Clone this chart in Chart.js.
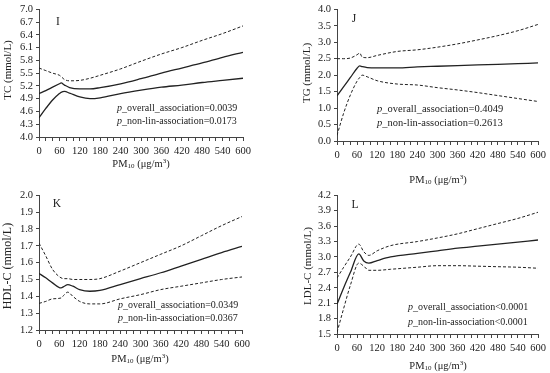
<!DOCTYPE html>
<html>
<head>
<meta charset="utf-8">
<script src="https://cdn.jsdelivr.net/npm/chart.js"></script>
<style>
  body { margin: 0; background: #fff; }
  #wrap { position: relative; width: 550px; height: 373px; }
  canvas { position: absolute; }
</style>
</head>
<body>
<div id="wrap">
  <canvas id="cI" width="275" height="186" style="left:0;top:0"></canvas>
  <canvas id="cJ" width="275" height="186" style="left:275px;top:0"></canvas>
  <canvas id="cK" width="275" height="187" style="left:0;top:186px"></canvas>
  <canvas id="cL" width="275" height="187" style="left:275px;top:186px"></canvas>
</div>
<script>
// PM10 dose-response curves, four lipid panels

// panel I - TC
const tcX = [0, 20, 40, 60, 65, 75, 90, 120, 150, 180, 240, 300, 360, 420, 480, 540, 600];
const tcUpper = [5.62, 5.56, 5.5, 5.45, 5.42, 5.35, 5.32, 5.33, 5.38, 5.45, 5.6, 5.78, 5.95, 6.1, 6.27, 6.43, 6.61];
const tcMid = [5.02, 5.09, 5.17, 5.25, 5.27, 5.22, 5.16, 5.13, 5.13, 5.16, 5.25, 5.37, 5.5, 5.62, 5.74, 5.87, 5.99];
const tcLower = [4.45, 4.67, 4.87, 5.02, 5.05, 5.07, 5.03, 4.94, 4.9, 4.92, 5.02, 5.1, 5.17, 5.22, 5.28, 5.33, 5.38];
const tcTicks = [4.0, 4.3, 4.6, 4.9, 5.2, 5.5, 5.8, 6.1, 6.4, 6.7, 7.0];

// panel J - TG
const tgX = [0, 20, 40, 60, 68, 75, 90, 120, 180, 240, 300, 360, 420, 480, 540, 600];
const tgUpper = [2.5, 2.5, 2.52, 2.62, 2.67, 2.55, 2.53, 2.6, 2.72, 2.77, 2.85, 2.95, 3.07, 3.2, 3.35, 3.54];
const tgMid = [1.37, 1.65, 1.93, 2.21, 2.28, 2.26, 2.23, 2.22, 2.22, 2.25, 2.27, 2.29, 2.31, 2.33, 2.35, 2.37];
const tgLower = [0.17, 0.85, 1.4, 1.82, 1.93, 2.0, 1.95, 1.83, 1.73, 1.7, 1.62, 1.55, 1.47, 1.38, 1.29, 1.2];
const tgTicks = [0.0, 0.5, 1.0, 1.5, 2.0, 2.5, 3.0, 3.5, 4.0];

// panel K - HDL-C
const hdlX = [0, 20, 40, 65, 75, 85, 100, 120, 150, 180, 240, 300, 360, 420, 480, 540, 600];
const hdlUpper = [1.716, 1.64, 1.56, 1.51, 1.505, 1.505, 1.5, 1.5, 1.5, 1.505, 1.55, 1.6, 1.65, 1.7, 1.76, 1.82, 1.874];
const hdlMid = [1.536, 1.51, 1.48, 1.45, 1.46, 1.47, 1.46, 1.44, 1.43, 1.435, 1.47, 1.505, 1.54, 1.58, 1.62, 1.66, 1.697];
const hdlLower = [1.358, 1.37, 1.385, 1.39, 1.41, 1.425, 1.4, 1.37, 1.355, 1.355, 1.385, 1.41, 1.44, 1.46, 1.48, 1.5, 1.515];
const hdlTicks = [1.2, 1.3, 1.4, 1.5, 1.6, 1.7, 1.8, 1.9, 2.0];

// panel L - LDL-C
const ldlX = [0, 20, 40, 65, 80, 95, 120, 160, 240, 300, 360, 420, 480, 540, 600];
const ldlUpper = [2.59, 2.8, 3.0, 3.25, 3.1, 3.03, 3.12, 3.22, 3.3, 3.37, 3.45, 3.55, 3.65, 3.75, 3.87];
const ldlMid = [2.08, 2.4, 2.7, 3.06, 2.92, 2.88, 2.93, 3.0, 3.07, 3.12, 3.17, 3.21, 3.25, 3.29, 3.33];
const ldlLower = [1.53, 2.0, 2.45, 2.88, 2.82, 2.74, 2.74, 2.76, 2.8, 2.83, 2.83, 2.82, 2.81, 2.8, 2.78];
const ldlTicks = [1.5, 1.8, 2.1, 2.4, 2.7, 3.0, 3.3, 3.6, 3.9, 4.2];

const xLabelEvery = 60;
const SERIF = '"Liberation Serif", "DejaVu Serif", serif';
const INK = '#222';

const panelText = {
  id: 'panelText',
  afterDraw(chart, args, o) {
    const ctx = chart.ctx;
    ctx.save();
    ctx.fillStyle = INK;
    ctx.textBaseline = 'middle';

    // panel letter
    ctx.font = '11.5px ' + SERIF;
    ctx.textAlign = 'center';
    ctx.fillText(o.letter, o.letterPos[0], o.letterPos[1]);

    // y title
    ctx.font = o.yTitleSize + 'px ' + SERIF;
    ctx.save();
    ctx.translate(o.yTitlePos[0], o.yTitlePos[1]);
    ctx.rotate(-Math.PI / 2);
    ctx.fillText(o.yTitle, 0, 0);
    ctx.restore();

    // x title: PM10 (μg/m3)
    const parts = [
      ['PM', 10.5, 0], ['10', 7, 2.5], [' (μg/m', 10.5, 0], ['3', 7, -3], [')', 10.5, 0]
    ];
    let total = 0;
    parts.forEach(p => { ctx.font = p[1] + 'px ' + SERIF; total += ctx.measureText(p[0]).width; });
    let x = o.xTitlePos[0] - total / 2;
    ctx.textAlign = 'left';
    parts.forEach(p => {
      ctx.font = p[1] + 'px ' + SERIF;
      ctx.fillText(p[0], x, o.xTitlePos[1] + p[2]);
      x += ctx.measureText(p[0]).width;
    });

    // p-values
    o.pLines.forEach((t, i) => {
      const y = o.pPos[1] + i * o.pGap;
      ctx.font = 'italic ' + o.pSize + 'px ' + SERIF;
      ctx.fillText('p', o.pPos[0], y);
      const w = ctx.measureText('p').width;
      ctx.font = o.pSize + 'px ' + SERIF;
      ctx.fillText(t, o.pPos[0] + w, y);
    });
    ctx.restore();
  }
};

function pts(xs, ys) {
  return xs.map((x, i) => ({ x: x, y: ys[i] }));
}

function makeChart(id, cfg) {
  const ds = (data, dashed) => ({
    data: data,
    borderColor: INK,
    borderWidth: dashed ? 1 : 1.3,
    borderDash: dashed ? [3, 2] : [],
    pointRadius: 0,
    cubicInterpolationMode: 'monotone',
    fill: false
  });
  const canvas = document.getElementById(id);
  return new Chart(canvas, {
    type: 'line',
    data: {
      datasets: [
        ds(pts(cfg.xs, cfg.upper), true),
        ds(pts(cfg.xs, cfg.mid), cfg.midDashed),
        ds(pts(cfg.xs, cfg.lower), cfg.lowerDashed)
      ]
    },
    options: {
      responsive: false,
      animation: false,
      events: [],
      layout: { padding: { left: 0, top: cfg.area[2], right: canvas.width - cfg.area[1], bottom: 0 } },
      plugins: {
        legend: { display: false },
        tooltip: { enabled: false },
        panelText: cfg.text
      },
      scales: {
        x: {
          type: 'linear',
          min: 0, max: 600,
          border: { display: true, color: '#444', width: 1 },
          grid: { display: true, drawOnChartArea: false, drawTicks: true, tickLength: 4, color: '#444' },
          ticks: {
            stepSize: 20,
            autoSkip: false,
            maxRotation: 0,
            padding: cfg.xPad,
            color: INK,
            font: { family: SERIF, size: 10.5 },
            callback: v => (v % xLabelEvery === 0 ? String(v) : '')
          },
          afterFit: s => { s.height = canvas.height - cfg.area[3]; }
        },
        y: {
          type: 'linear',
          min: cfg.ticks[0], max: cfg.ticks[cfg.ticks.length - 1],
          border: { display: true, color: '#444', width: 1 },
          grid: { display: true, drawOnChartArea: false, drawTicks: true, tickLength: 3, color: '#444' },
          ticks: {
            autoSkip: false,
            padding: 3,
            color: INK,
            font: { family: SERIF, size: 10.5 },
            callback: v => v.toFixed(1)
          },
          afterBuildTicks: s => { s.ticks = cfg.ticks.map(v => ({ value: v })); },
          afterFit: s => { s.width = cfg.area[0]; }
        }
      }
    },
    plugins: [panelText]
  });
}

makeChart('cI', {
  xs: tcX, upper: tcUpper, mid: tcMid, lower: tcLower, ticks: tcTicks,
  midDashed: false, lowerDashed: false,
  area: [39, 243, 9, 137], xPad: 4,
  text: {
    letter: 'I', letterPos: [58, 22],
    yTitle: 'TC (mmol/L)', yTitlePos: [8, 70], yTitleSize: 11,
    xTitlePos: [141, 164],
    pLines: ['_overall_association=0.0039', '_non-lin-association=0.0173'],
    pPos: [117, 108], pGap: 13.5, pSize: 10
  }
});

makeChart('cJ', {
  xs: tgX, upper: tgUpper, mid: tgMid, lower: tgLower, ticks: tgTicks,
  midDashed: false, lowerDashed: true,
  area: [62, 263, 7, 141], xPad: 4,
  text: {
    letter: 'J', letterPos: [79, 19],
    yTitle: 'TG (mmol/L)', yTitlePos: [32, 73], yTitleSize: 11,
    xTitlePos: [163, 180],
    pLines: ['_overall_association=0.4049', '_non-lin-association=0.2613'],
    pPos: [102, 109], pGap: 14, pSize: 10.5
  }
});

makeChart('cK', {
  xs: hdlX, upper: hdlUpper, mid: hdlMid, lower: hdlLower, ticks: hdlTicks,
  midDashed: false, lowerDashed: true,
  area: [39, 242, 6, 144], xPad: 4,
  text: {
    letter: 'K', letterPos: [57, 18],
    yTitle: 'HDL-C (mmol/L)', yTitlePos: [8, 80], yTitleSize: 12,
    xTitlePos: [140, 173],
    pLines: ['_overall_association=0.0349', '_non-lin-association=0.0367'],
    pPos: [118, 119], pGap: 13, pSize: 10
  }
});

makeChart('cL', {
  xs: ldlX, upper: ldlUpper, mid: ldlMid, lower: ldlLower, ticks: ldlTicks,
  midDashed: false, lowerDashed: true,
  area: [62, 263, 8, 148], xPad: 4,
  text: {
    letter: 'L', letterPos: [80, 19],
    yTitle: 'LDL-C (mmol/L)', yTitlePos: [33, 80], yTitleSize: 11,
    xTitlePos: [163, 180],
    pLines: ['_overall_association<0.0001', '_non-lin-association<0.0001'],
    pPos: [133, 121], pGap: 15, pSize: 10
  }
});
</script>
</body>
</html>
